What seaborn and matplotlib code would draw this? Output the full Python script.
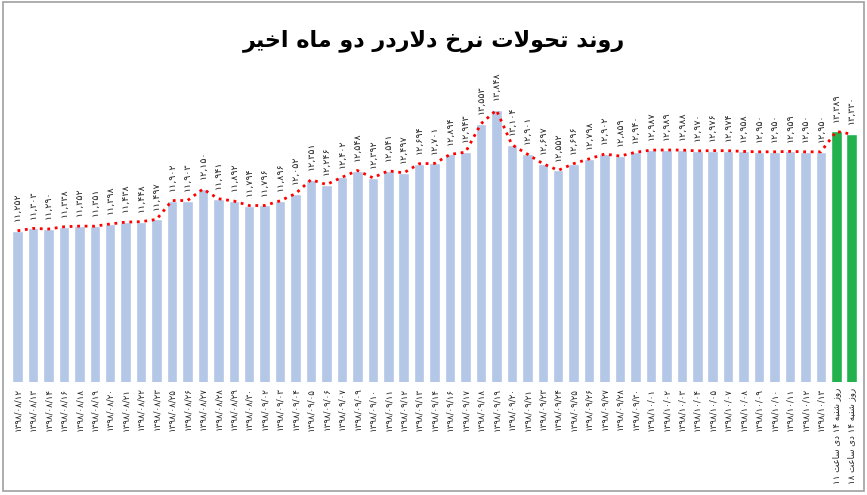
import numpy as np
import seaborn as sns
import matplotlib.pyplot as plt
from matplotlib.patches import Rectangle

# dates (1398 solar hijri) + the two intraday readings of the last day
dates = ["۱۳۹۸/۰۸/۱۲", "۱۳۹۸/۰۸/۱۳", "۱۳۹۸/۰۸/۱۴", "۱۳۹۸/۰۸/۱۶", "۱۳۹۸/۰۸/۱۸",
         "۱۳۹۸/۰۸/۱۹", "۱۳۹۸/۰۸/۲۰", "۱۳۹۸/۰۸/۲۱", "۱۳۹۸/۰۸/۲۲", "۱۳۹۸/۰۸/۲۳",
         "۱۳۹۸/۰۸/۲۵", "۱۳۹۸/۰۸/۲۶", "۱۳۹۸/۰۸/۲۷", "۱۳۹۸/۰۸/۲۸", "۱۳۹۸/۰۸/۲۹",
         "۱۳۹۸/۰۸/۳۰", "۱۳۹۸/۰۹/۰۲", "۱۳۹۸/۰۹/۰۳", "۱۳۹۸/۰۹/۰۴", "۱۳۹۸/۰۹/۰۵",
         "۱۳۹۸/۰۹/۰۶", "۱۳۹۸/۰۹/۰۷", "۱۳۹۸/۰۹/۰۹", "۱۳۹۸/۰۹/۱۰", "۱۳۹۸/۰۹/۱۱",
         "۱۳۹۸/۰۹/۱۲", "۱۳۹۸/۰۹/۱۳", "۱۳۹۸/۰۹/۱۴", "۱۳۹۸/۰۹/۱۶", "۱۳۹۸/۰۹/۱۷",
         "۱۳۹۸/۰۹/۱۸", "۱۳۹۸/۰۹/۱۹", "۱۳۹۸/۰۹/۲۰", "۱۳۹۸/۰۹/۲۱", "۱۳۹۸/۰۹/۲۳",
         "۱۳۹۸/۰۹/۲۴", "۱۳۹۸/۰۹/۲۵", "۱۳۹۸/۰۹/۲۶", "۱۳۹۸/۰۹/۲۷", "۱۳۹۸/۰۹/۲۸",
         "۱۳۹۸/۰۹/۳۰", "۱۳۹۸/۱۰/۰۱", "۱۳۹۸/۱۰/۰۲", "۱۳۹۸/۱۰/۰۳", "۱۳۹۸/۱۰/۰۴",
         "۱۳۹۸/۱۰/۰۵", "۱۳۹۸/۱۰/۰۷", "۱۳۹۸/۱۰/۰۸", "۱۳۹۸/۱۰/۰۹", "۱۳۹۸/۱۰/۱۰",
         "۱۳۹۸/۱۰/۱۱", "۱۳۹۸/۱۰/۱۲", "۱۳۹۸/۱۰/۱۳"]
today = ["روز شنبه ۱۴ دی ساعت ۱۱", "روز شنبه ۱۴ دی ساعت ۱۸"]

rates = [11252, 11303, 11290, 11338, 11352, 11351, 11398, 11438, 11448, 11497,
         11902, 11903, 12150, 11941, 11892, 11794, 11796, 11896, 12052, 12351,
         12246, 12402, 12548, 12392, 12541, 12497, 12694, 12701, 12894, 12943,
         13553, 13848, 13104, 12901, 12697, 12552, 12696, 12798, 12902, 12859,
         12940, 12987, 12989, 12988, 12970, 12976, 12974, 12958, 12950, 12950,
         12959, 12950, 12950, 13389, 13330]

title = "روند تحولات نرخ دلاردر دو ماه اخیر"

# matplotlib does no arabic shaping -> small manual reshaper (presentation forms)
FORMS = {  # isolated, final, initial, medial
    'ا': (0xFE8D, 0xFE8E, None, None), 'ب': (0xFE8F, 0xFE90, 0xFE91, 0xFE92),
    'ت': (0xFE95, 0xFE96, 0xFE97, 0xFE98), 'ح': (0xFEA1, 0xFEA2, 0xFEA3, 0xFEA4),
    'خ': (0xFEA5, 0xFEA6, 0xFEA7, 0xFEA8), 'د': (0xFEA9, 0xFEAA, None, None),
    'ر': (0xFEAD, 0xFEAE, None, None), 'ز': (0xFEAF, 0xFEB0, None, None),
    'س': (0xFEB1, 0xFEB2, 0xFEB3, 0xFEB4), 'ش': (0xFEB5, 0xFEB6, 0xFEB7, 0xFEB8),
    'ع': (0xFEC9, 0xFECA, 0xFECB, 0xFECC), 'ل': (0xFEDD, 0xFEDE, 0xFEDF, 0xFEE0),
    'م': (0xFEE1, 0xFEE2, 0xFEE3, 0xFEE4), 'ن': (0xFEE5, 0xFEE6, 0xFEE7, 0xFEE8),
    'ه': (0xFEE9, 0xFEEA, 0xFEEB, 0xFEEC), 'و': (0xFEED, 0xFEEE, None, None),
    'ی': (0xFBFC, 0xFBFD, 0xFBFE, 0xFBFF),
}


def shape_word(w):
    out = []
    prev_join = False
    i = 0
    while i < len(w):
        c = w[i]
        if c not in FORMS:
            out.append(c)
            prev_join = False
            i += 1
            continue
        if c == 'ل' and i + 1 < len(w) and w[i + 1] == 'ا':
            out.append(chr(0xFEFC if prev_join else 0xFEFB))
            prev_join = False
            i += 2
            continue
        f = FORMS[c]
        nxt = w[i + 1] if i + 1 < len(w) else None
        next_join = f[2] is not None and nxt in FORMS
        if prev_join and next_join:
            g = f[3]
        elif prev_join:
            g = f[1]
        elif next_join:
            g = f[2]
        else:
            g = f[0]
        out.append(chr(g))
        prev_join = f[2] is not None
        i += 1
    return ''.join(out)


def rtl(s):
    words = []
    for w in s.split(' '):
        if any(ch in FORMS for ch in w):
            words.append(shape_word(w)[::-1])
        else:
            words.append(w)
    return ' '.join(words[::-1])


fa_digits = str.maketrans('0123456789', '۰۱۲۳۴۵۶۷۸۹')
labels = dates + [rtl(t) for t in today]
val_labels = [f"{v:,}".translate(fa_digits) for v in rates]
colors = ['#B4C7E7'] * len(dates) + ['#22B14C'] * len(today)

sns.set_style('white')
plt.rcParams['font.family'] = ['DejaVu Sans']

fig = plt.figure(figsize=(8.67, 4.95), dpi=100)
ax = fig.add_axes([0.0113, 0.2283, 0.980, 0.6505])

sns.barplot(x=labels, y=rates, hue=labels, palette=colors, order=labels,
            legend=False, width=0.68, saturation=1, ax=ax)
sns.lineplot(x=np.arange(len(rates)), y=rates, color='#FF0000', lw=2.0,
             linestyle=(0, (1, 1.7)), ax=ax)

for i, (v, t) in enumerate(zip(rates, val_labels)):
    ax.annotate(t, (i, v), xytext=(0, 7), textcoords='offset points',
                rotation=90, ha='center', va='bottom', fontsize=6.8, color='#222222')

ax.set_xlim(-0.5, len(rates) - 0.5)
ax.set_ylim(8000, 14925)
ax.set_yticks([])
ax.tick_params(axis='x', length=0, pad=4, labelsize=6.2, labelcolor='#222222')
plt.setp(ax.get_xticklabels(), rotation=90)
sns.despine(ax=ax, left=True, bottom=True)

fig.text(0.5, 0.918, rtl(title), ha='center', va='center', fontsize=16,
         fontweight='bold', color='black')

fig.patches.append(Rectangle((0.003, 0.008), 0.994, 0.988, transform=fig.transFigure,
                             fill=False, edgecolor='#A0A0A0', lw=1.2))

fig.savefig('out.png', dpi=100)
